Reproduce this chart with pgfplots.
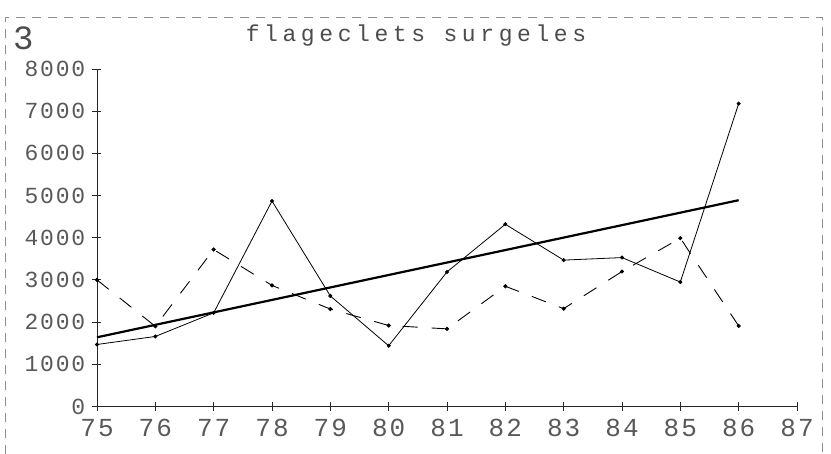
\documentclass[border=0pt]{standalone}
\usepackage{fontspec}
\setmainfont{Liberation Mono}
\newfontfamily\plotfont[LetterSpace=20]{Liberation Mono}
\newfontfamily\tickfont[LetterSpace=8]{Liberation Mono}
\usepackage{pgfplots}
\pgfplotsset{compat=1.18}
\pgfplotstableread{
year solid dashed
75 1470 3000
76 1660 1900
77 2220 3720
78 4870 2870
79 2620 2310
80 1440 1920
81 3190 1840
82 4320 2850
83 3470 2320
84 3530 3200
85 2950 3990
86 7180 1910
}\datatab
\begin{document}
\begin{tikzpicture}
\useasboundingbox (0pt,0pt) rectangle (831pt,-454pt);
\begin{axis}[
  at={(97pt,-406.5pt)}, anchor=south west,
  scale only axis, width=700pt, height=337.5pt,
  xmin=75, xmax=87, ymin=0, ymax=8000,
  axis x line=bottom, axis y line=left,
  axis line style={-, line width=0.9pt, black!85},
  xtick={75,...,87}, ytick={0,1000,...,8000},
  xticklabels={75,76,77,78,79,80,81,82,83,84,85,86,87},
  yticklabels={0,1000,2000,3000,4000,5000,6000,7000,8000},
  tick align=center, major tick length=9pt,
  tick style={line width=0.9pt, black!85},
  yticklabel style={font=\tickfont\fontsize{23}{23}\selectfont, text=black!65, anchor=east, inner sep=0pt, xshift=-7pt},
  xticklabel style={font=\tickfont\fontsize{26}{26}\selectfont, text=black!65, anchor=north, inner sep=0pt, yshift=-8pt},
  clip=false,
]
\addplot[black, line width=0.8pt, mark=*, mark size=1.6pt] table[x=year, y=solid] {\datatab};
\addplot[black, line width=0.9pt, dash pattern=on 15pt off 14pt, mark=*, mark size=1.6pt, mark options={solid}] table[x=year, y=dashed] {\datatab};
\addplot[black, line width=2.2pt] coordinates {(75,1640) (86,4890)};
\end{axis}
\draw[black!45, line width=0.8pt, dash pattern=on 9pt off 7pt] (5pt,-454pt) -- (5pt,-17pt) -- (822pt,-17pt) -- (822pt,-454pt);
\node[font=\plotfont\fontsize{23}{23}\selectfont, text=black!70, inner sep=0pt] at (416pt,-36pt) {flageclets surgeles};
\node[font=\fontsize{34}{34}\selectfont, text=black!70, inner sep=0pt, anchor=west] at (13pt,-38pt) {3};
\end{tikzpicture}
\end{document}
